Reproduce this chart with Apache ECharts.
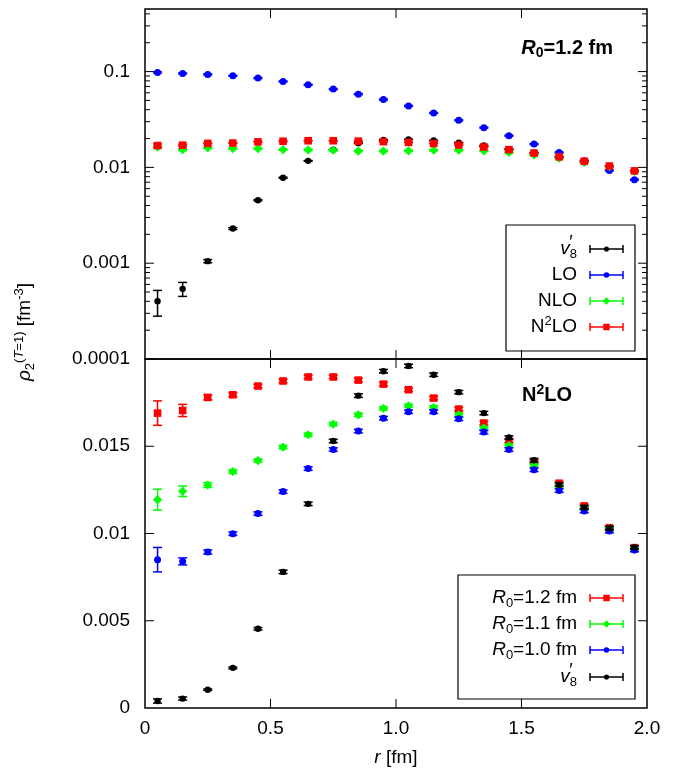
<!DOCTYPE html>
<html>
<head>
<meta charset="utf-8">
<script src="https://cdn.jsdelivr.net/npm/echarts@6/dist/echarts.min.js"></script>
<style>
  html, body { margin: 0; padding: 0; background: #fff; }
  #chart { width: 676px; height: 769px; }
</style>
</head>
<body>
<div id="chart"></div>
<script>
const FONT = '"Liberation Sans", Arial, Helvetica, sans-serif';

// radial bins [fm]
const r = [0.05, 0.15, 0.25, 0.35, 0.45, 0.55, 0.65, 0.75, 0.85, 0.95,
           1.05, 1.15, 1.25, 1.35, 1.45, 1.55, 1.65, 1.75, 1.85, 1.95];

// tick positions and labels
const xTickValues = [0.5, 1.0, 1.5];
const xTickLabels = ['0', '0.5', '1.0', '1.5', '2.0'];
const logTickValues = [0.0001, 0.001, 0.01, 0.1];
const logTickLabels = ['0.0001', '0.001', '0.01', '0.1'];
const linTickValues = [0.005, 0.01, 0.015];
const linTickLabels = ['0', '0.005', '0.01', '0.015', ''];

// AV8' reference density
const v8    = [0.0004, 0.00054, 0.00105, 0.0023, 0.00454, 0.0078, 0.0117, 0.0153, 0.0179, 0.0193,
               0.0196, 0.0191, 0.0181, 0.0169, 0.0155, 0.0142, 0.0128, 0.0115, 0.0103, 0.0092];
const v8Err = [0.00012, 0.00009, 0.00004, 0.00005, 0.00007, 0.0001, 0.0001, 0.0001, 0.0001, 0.0001,
               0.0001, 0.0001, 0.0001, 0.0001, 0.0001, 0.0001, 0.0001, 0.0001, 0.0001, 0.0001];

// chiral orders at R0 = 1.2 fm
const lo    = [0.098, 0.0957, 0.0934, 0.0904, 0.0855, 0.0789, 0.0728, 0.0656, 0.0581, 0.0511,
               0.0438, 0.0370, 0.0310, 0.0260, 0.0214, 0.0175, 0.0143, 0.0117, 0.0093, 0.00745];
const loErr = [0.0012, 0.0011, 0.0011, 0.0010, 0.0010, 0.0009, 0.0008, 0.0008, 0.0007, 0.0006,
               0.0005, 0.0004, 0.0004, 0.0003, 0.0003, 0.0002, 0.0002, 0.0002, 0.0001, 0.0001];
const nlo    = [0.0163, 0.0153, 0.0160, 0.0157, 0.0157, 0.0153, 0.0152, 0.0151, 0.0148, 0.0148,
                0.0149, 0.0151, 0.0151, 0.0149, 0.0143, 0.0135, 0.0125, 0.0113, 0.0102, 0.0091];
const nloErr = [0.0004, 0.0003, 0.0002, 0.0002, 0.0002, 0.0002, 0.0002, 0.0002, 0.0002, 0.0002,
                0.0002, 0.0002, 0.0002, 0.0002, 0.0002, 0.0002, 0.0002, 0.0002, 0.0002, 0.0002];

// N2LO for three cutoffs
const n2loR12    = [0.0169, 0.01705, 0.0178, 0.01795, 0.01845, 0.01874, 0.01897, 0.01897, 0.01879, 0.01856,
                    0.01824, 0.01776, 0.01713, 0.01633, 0.01531, 0.01412, 0.01288, 0.01158, 0.01033, 0.00919];
const n2loR12Err = [0.0007, 0.00035, 0.00014, 0.00011, 0.0001, 0.0001, 0.0001, 0.0001, 0.0001, 0.0001,
                    0.0001, 0.0001, 0.0001, 0.0001, 0.0001, 0.0001, 0.0001, 0.0001, 0.0001, 0.0001];
const n2loR11    = [0.01194, 0.01242, 0.01278, 0.01355, 0.01418, 0.01495, 0.01566, 0.01627, 0.0168, 0.01717,
                    0.01732, 0.01722, 0.0168, 0.01604, 0.01504, 0.01388, 0.01269, 0.01144, 0.01026, 0.00911];
const n2loR11Err = [0.0006, 0.0003, 0.00014, 0.00011, 0.0001, 0.0001, 0.0001, 0.0001, 0.0001, 0.0001,
                    0.0001, 0.0001, 0.0001, 0.0001, 0.0001, 0.0001, 0.0001, 0.0001, 0.0001, 0.0001];
const n2loR10    = [0.0085, 0.0084, 0.00894, 0.00999, 0.01114, 0.0124, 0.01372, 0.01481, 0.01587, 0.01661,
                    0.01698, 0.01698, 0.01657, 0.01581, 0.01481, 0.01365, 0.01246, 0.01129, 0.01014, 0.00905];
const n2loR10Err = [0.0007, 0.0002, 0.00012, 0.0001, 0.0001, 0.0001, 0.0001, 0.0001, 0.0001, 0.0001,
                    0.0001, 0.0001, 0.0001, 0.0001, 0.0001, 0.0001, 0.0001, 0.0001, 0.0001, 0.0001];

const RED = '#ff0000', GREEN = '#00ff00', BLUE = '#0000ff', BLACK = '#000000';

// point shapes
function marker(shape, cx, cy, color, scale) {
  const s = scale || 1;
  if (shape === 'square') {
    const h = 3.8 * s;
    return { type: 'rect', shape: { x: cx - h, y: cy - h, width: 2 * h, height: 2 * h }, style: { fill: color } };
  }
  if (shape === 'diamond') {
    const h = 4.6 * s;
    return { type: 'polygon', shape: { points: [[cx, cy - h], [cx + h, cy], [cx, cy + h], [cx - h, cy]] }, style: { fill: color } };
  }
  const rad = (shape === 'dot' ? 3.2 : 3.5) * s;
  return { type: 'circle', shape: { cx: cx, cy: cy, r: rad }, style: { fill: color } };
}

// error bar with caps plus the point
function errSeries(name, axisIdx, vals, errs, color, shape) {
  return {
    type: 'custom',
    name: name,
    xAxisIndex: axisIdx,
    yAxisIndex: axisIdx,
    silent: true,
    encode: { x: 0, y: 1 },
    data: r.map((x, i) => [x, vals[i], errs[i]]),
    renderItem: function (params, api) {
      const x = api.value(0), y = api.value(1), e = api.value(2);
      const c = api.coord([x, y]);
      const hi = api.coord([x, y + e]);
      const lw = api.coord([x, y - e]);
      const cap = 4.5;
      const ls = { stroke: color, lineWidth: 1.5 };
      return {
        type: 'group',
        children: [
          { type: 'line', shape: { x1: c[0], y1: hi[1], x2: c[0], y2: lw[1] }, style: ls },
          { type: 'line', shape: { x1: c[0] - cap, y1: hi[1], x2: c[0] + cap, y2: hi[1] }, style: ls },
          { type: 'line', shape: { x1: c[0] - cap, y1: lw[1], x2: c[0] + cap, y2: lw[1] }, style: ls },
          marker(shape, c[0], c[1], color)
        ]
      };
    }
  };
}

// inward ticks on all four sides of a panel: kind 0 = x major, 1 = y major, 2 = y minor
function tickSeries(axisIdx, yRef, yMajor, yMinor) {
  const data = [];
  xTickValues.forEach(v => data.push([v, yRef, 0]));
  yMajor.forEach(v => data.push([1, v, 1]));
  yMinor.forEach(v => data.push([1, v, 2]));
  return {
    type: 'custom',
    name: 'ticks',
    xAxisIndex: axisIdx, yAxisIndex: axisIdx,
    silent: true,
    encode: { x: 0, y: 1 },
    data: data,
    renderItem: function (params, api) {
      const cs = params.coordSys;
      const kind = api.value(2);
      const p = api.coord([api.value(0), api.value(1)]);
      const ls = { stroke: '#000', lineWidth: 1 };
      if (kind === 0) {
        return { type: 'group', children: [
          { type: 'line', shape: { x1: p[0], y1: cs.y, x2: p[0], y2: cs.y + 9 }, style: ls },
          { type: 'line', shape: { x1: p[0], y1: cs.y + cs.height - 9, x2: p[0], y2: cs.y + cs.height }, style: ls }
        ] };
      }
      const len = kind === 1 ? 9 : 5;
      return { type: 'group', children: [
        { type: 'line', shape: { x1: cs.x, y1: p[1], x2: cs.x + len, y2: p[1] }, style: ls },
        { type: 'line', shape: { x1: cs.x + cs.width - len, y1: p[1], x2: cs.x + cs.width, y2: p[1] }, style: ls }
      ] };
    }
  };
}

// minor tick values of the logarithmic axis (2..9 per decade)
const logMinor = [];
for (let k = -4; k <= -1; k++) {
  for (let m = 2; m <= 9; m++) {
    const v = m * Math.pow(10, k);
    if (v < 0.45) logMinor.push(v);
  }
}

// rich-text styles for sub/superscripts
function richSet(size, weight) {
  const small = Math.round(size * 0.68);
  const base = { fontFamily: FONT, fontWeight: weight, fill: '#000' };
  return {
    n:    Object.assign({}, base, { fontSize: size, lineHeight: 24, verticalAlign: 'middle' }),
    i:    Object.assign({}, base, { fontSize: size, lineHeight: 24, verticalAlign: 'middle', fontStyle: 'italic' }),
    sup:  Object.assign({}, base, { fontSize: small, lineHeight: 8, verticalAlign: 'top' }),
    supi: Object.assign({}, base, { fontSize: small, lineHeight: 8, verticalAlign: 'top', fontStyle: 'italic' }),
    sub:  Object.assign({}, base, { fontSize: small, lineHeight: 10, verticalAlign: 'bottom' })
  };
}
const RICH = richSet(19, 'normal');
const RICHB = richSet(20, 'bold');

function txt(x, y, text, align, rich, extra) {
  return Object.assign({
    type: 'text', x: x, y: y, silent: true,
    style: { text: text, align: align, verticalAlign: 'middle', rich: rich, fill: '#000', fontFamily: FONT, fontSize: 19 }
  }, extra || {});
}

function legendBlock(box, rows) {
  const els = [{
    type: 'rect', silent: true,
    shape: { x: box[0], y: box[1], width: box[2] - box[0], height: box[3] - box[1] },
    style: { fill: '#fff', stroke: '#000', lineWidth: 1.2 }
  }];
  rows.forEach(row => {
    const y = row.y, x1 = 590, x2 = 623, xm = 606.5;
    const ls = { stroke: row.color, lineWidth: 1.5 };
    els.push(txt(577, y, row.label, 'right', RICH));
    if (row.prime) els.push(txt(row.prime[0], row.prime[1], '{i|\u2032}', 'center', RICH));
    els.push({ type: 'line', silent: true, shape: { x1: x1, y1: y, x2: x2, y2: y }, style: ls });
    els.push({ type: 'line', silent: true, shape: { x1: x1, y1: y - 4, x2: x1, y2: y + 4 }, style: ls });
    els.push({ type: 'line', silent: true, shape: { x1: x2, y1: y - 4, x2: x2, y2: y + 4 }, style: ls });
    const m = marker(row.shape, xm, y, row.color, row.shape === 'square' ? 0.85 : 0.8);
    m.silent = true;
    els.push(m);
  });
  return els;
}

const labelStyle = { color: '#000', fontFamily: FONT, fontSize: 19 };

function xAx(grid, labels) {
  return {
    type: 'value', gridIndex: grid, position: 'bottom', min: 0, max: 2, interval: 0.5,
    axisLine: { show: false }, splitLine: { show: false }, axisTick: { show: false },
    axisLabel: labels ? Object.assign({ margin: 11, formatter: v => xTickLabels[Math.round(v / 0.5)] }, labelStyle) : { show: false }
  };
}
const yLog = {
  type: 'log', logBase: 10, gridIndex: 0, position: 'left', min: 0.0001, max: 0.45,
  axisLine: { show: false }, splitLine: { show: false }, axisTick: { show: false },
  axisLabel: Object.assign({
    margin: 15,
    formatter: v => {
      const e = Math.log10(v), k = Math.round(e);
      return Math.abs(e - k) < 1e-6 ? (logTickLabels[k + 4] || '') : '';
    }
  }, labelStyle)
};
const yLin = {
  type: 'value', gridIndex: 1, position: 'left', min: 0, max: 0.02, interval: 0.005,
  axisLine: { show: false }, splitLine: { show: false }, axisTick: { show: false },
  axisLabel: Object.assign({ margin: 15, formatter: v => linTickLabels[Math.round(v / 0.005)] }, labelStyle)
};

const chart = echarts.init(document.getElementById('chart'), null, { renderer: 'canvas' });

const option = {
  backgroundColor: '#fff',
  animation: false,
  grid: [
    { left: 145, top: 9, width: 502, height: 350, show: true, borderColor: '#000', borderWidth: 1.5, backgroundColor: 'transparent' },
    { left: 145, top: 359, width: 502, height: 349, show: true, borderColor: '#000', borderWidth: 1.5, backgroundColor: 'transparent' }
  ],
  xAxis: [xAx(0, false), xAx(1, true)],
  yAxis: [yLog, yLin],
  series: [
    tickSeries(0, 0.01, logTickValues, logMinor),
    tickSeries(1, 0.01, linTickValues, []),
    // upper panel: chiral orders at R0 = 1.2 fm (log scale)
    errSeries("v8'", 0, v8, v8Err, BLACK, 'dot'),
    errSeries('LO', 0, lo, loErr, BLUE, 'circle'),
    errSeries('NLO', 0, nlo, nloErr, GREEN, 'diamond'),
    errSeries('N2LO', 0, n2loR12, n2loR12Err, RED, 'square'),
    // lower panel: N2LO for three cutoffs (linear scale)
    errSeries('R0=1.2 fm', 1, n2loR12, n2loR12Err, RED, 'square'),
    errSeries('R0=1.1 fm', 1, n2loR11, n2loR11Err, GREEN, 'diamond'),
    errSeries('R0=1.0 fm', 1, n2loR10, n2loR10Err, BLUE, 'circle'),
    errSeries("v8' ", 1, v8, v8Err, BLACK, 'dot')
  ],
  graphic: [].concat(
    legendBlock([506, 225, 635, 351], [
      { y: 249, label: '{i|v}{sub|8}', prime: [570, 243], color: BLACK, shape: 'dot' },
      { y: 275, label: '{n|LO}', color: BLUE, shape: 'circle' },
      { y: 301, label: '{n|NLO}', color: GREEN, shape: 'diamond' },
      { y: 327, label: '{n|N}{sup|2}{n|LO}', color: RED, shape: 'square' }
    ]),
    legendBlock([458, 575, 635, 699], [
      { y: 598, label: '{i|R}{sub|0}{n|=1.2 fm}', color: RED, shape: 'square' },
      { y: 624, label: '{i|R}{sub|0}{n|=1.1 fm}', color: GREEN, shape: 'diamond' },
      { y: 650, label: '{i|R}{sub|0}{n|=1.0 fm}', color: BLUE, shape: 'circle' },
      { y: 677, label: '{i|v}{sub|8}', prime: [570, 671], color: BLACK, shape: 'dot' }
    ]),
    [
      txt(613, 48, '{i|R}{sub|0}{n|=1.2 fm}', 'right', RICHB),
      txt(522, 395, '{n|N}{sup|2}{n|LO}', 'left', RICHB),
      txt(396, 758, '{i|r}{n| [fm]}', 'center', RICH),
      txt(25, 332, '{i|\u03c1}{sub|2}{sup|(}{supi|T}{sup|=1)}{n| [fm}{sup|-3}{n|]}', 'center', RICH, { rotation: Math.PI / 2 })
    ]
  )
};

chart.setOption(option);
</script>
</body>
</html>
